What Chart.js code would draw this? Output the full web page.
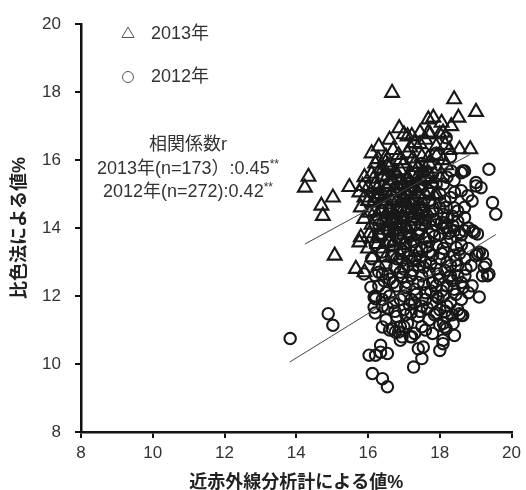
<!DOCTYPE html>
<html><head><meta charset="utf-8">
<script src="https://cdn.jsdelivr.net/npm/chart.js@4.4.1/dist/chart.umd.min.js"></script>
<style>html,body{margin:0;padding:0;background:#fff;}</style>
</head><body>
<canvas id="c" width="526" height="490"></canvas>
<script>
const xTicks = [8, 10, 12, 14, 16, 18, 20];
const yTicks = [8, 10, 12, 14, 16, 18, 20];
const seriesNames = ['2013年', '2012年'];
const xTitle = '近赤外線分析計による値%';
const yTitle = '比色法による値%';
const corrTitle = '相関係数r';
const corrLines = ['2013年(n=173）:0.45', '2012年(n=272):0.42'];
const corrMark = '**';

const tri2013 = [
[16.67,17.98],[18.40,17.79],[19.01,17.42],[18.52,17.25],[17.68,17.20],[17.82,17.25],[18.05,17.10],[16.87,16.94],
[17.22,16.71],[17.45,16.81],[17.68,16.81],[18.32,17.00],[18.09,16.81],[18.27,16.30],[18.55,16.32],[18.85,16.32],
[18.18,15.85],[16.28,16.03],[16.49,15.93],[14.34,15.51],[14.24,15.19],[15.02,14.90],[14.70,14.66],[14.74,14.36],
[15.48,15.21],[15.85,15.24],[15.76,15.05],[15.80,14.61],[15.80,13.73],[15.76,13.58],[15.07,13.19],[15.66,12.80],
[16.12,13.14],[15.89,14.27],[17.18,16.37],[17.45,16.47],[17.91,16.12],[17.68,16.07],[17.00,16.76],[18.00,16.76],
[17.73,16.76],[16.26,13.53],[16.35,13.78],[16.58,13.58],[16.76,13.63],[16.49,13.14],
[16.1,15.6],[16.2,15.3],[16.3,15.0],[16.4,15.5],[16.5,15.2],[16.6,14.9],[16.7,15.4],[16.8,15.1],[16.9,15.7],
[17.0,15.3],[17.1,15.0],[17.2,15.6],[17.3,15.2],[17.4,15.8],[17.5,15.4],[17.6,15.0],[17.7,15.6],[17.8,15.3],
[16.0,14.8],[16.2,14.5],[16.4,14.2],[16.5,14.7],[16.7,14.4],[16.8,14.8],[16.9,14.1],[17.0,14.6],[17.2,14.3],
[17.3,14.8],[17.5,14.5],[17.6,14.1],[17.8,14.7],[16.1,14.1],[16.3,13.8],[16.6,13.6],[16.8,13.9],[17.0,13.5],
[17.2,13.8],[17.4,13.3],[17.6,13.7],[16.5,16.1],[16.7,16.3],[16.9,16.0],[17.1,16.2],[17.3,16.5],[17.5,16.1],
[17.7,15.9],[16.6,15.8],[16.8,15.6],[17.0,15.9],[16.2,15.9],[15.9,15.5],[15.9,14.9],[16.0,15.2],[16.3,14.9],
[16.5,14.4],[16.7,13.9],[17.1,14.0],[17.4,14.4],[17.7,14.2],[17.9,15.0],[18.0,15.5],[17.9,16.4],[18.1,16.0],
[16.4,15.7],[16.6,15.3],[16.9,15.4],[17.1,15.5],[17.3,15.9],[17.6,15.5],[16.2,14.9],[16.4,14.8],[16.6,14.5],
[16.8,14.3],[17.0,14.9],[17.2,15.1],[17.4,15.0],[17.5,14.8],[16.1,13.7],[16.4,13.4],[16.9,13.2],[17.3,13.0],
[16.3,12.9],[15.9,12.7],[16.0,13.4],[17.1,16.7],[16.6,16.6],[17.6,16.6],[16.3,16.4],[16.1,16.2],
[16.15,15.45],[16.25,15.15],[16.35,15.75],[16.45,14.95],[16.55,15.55],[16.65,15.05],[16.75,15.65],[16.85,14.55],
[16.95,15.25],[17.05,14.75],[17.15,15.35],[17.25,14.85],[17.35,15.45],[17.45,14.65],[17.55,15.65],[16.25,14.25],
[16.45,13.95],[16.55,14.05],[16.75,14.15],[16.95,14.35],[17.05,14.05],[17.35,14.55],[17.65,14.45],[17.85,14.95],
[16.05,14.45],[16.15,14.75],[16.35,14.55],[16.55,15.85],[16.85,16.15],[17.25,16.05],[17.45,15.25],[17.75,15.45],
[16.95,14.85],[17.15,14.45],[16.65,14.25],[16.05,13.85],[17.95,15.75],[18.15,16.45]
];

const circ2012 = [
[13.83,10.75],[14.89,11.48],[15.02,11.14],[16.12,9.72],[16.40,9.57],[16.54,9.33],[16.03,10.26],[16.21,10.26],
[16.35,10.35],[16.54,10.31],[16.35,10.55],[16.17,11.97],[17.27,9.91],[17.54,10.50],[17.40,10.45],[17.50,10.16],
[17.18,10.80],[16.90,10.70],[16.76,10.94],[18.41,10.84],[18.09,10.70],[18.00,10.40],[18.09,10.60],[18.00,11.14],
[18.18,11.04],[18.37,11.19],[18.64,11.43],[18.55,11.48],[19.10,11.97],[19.37,15.73],[18.69,15.68],[18.60,15.63],
[19.01,15.34],[19.47,14.75],[19.56,14.41],[19.01,15.24],[19.15,15.19],[18.78,14.95],[18.69,14.61],[18.69,14.31],
[18.41,15.05],[18.14,14.80],[18.18,14.61],[18.05,14.17],[18.18,14.02],[18.41,13.92],[18.69,13.92],[18.96,13.87],
[18.18,16.66],[18.32,15.68],[18.64,15.68],[18.92,13.92],[19.05,13.83],[19.10,13.29],[19.00,13.19],[19.28,12.95],
[19.37,12.65],[19.19,12.60],[18.87,12.90],[18.73,12.80],[18.46,13.43],[18.55,13.87],[18.37,14.07],
[15.89,12.65],[16.08,12.26],[16.21,11.92],[16.17,11.67],[16.40,12.65],[19.33,12.60],[19.24,12.85],[19.05,13.24],
[19.19,13.24],[18.60,11.43],[18.14,11.09],[16.95,10.80],[17.22,10.80],[16.40,11.09],[16.67,11.04],[16.85,10.94],
[17.9,16.2],[18.3,16.1],[17.5,15.9],
[17.6,15.4],[17.9,15.3],[18.2,15.5],[17.3,15.6],
[17.0,15.0],[17.4,14.9],[17.7,15.1],[18.0,15.0],[18.3,14.9],[16.8,15.2],
[16.6,14.6],[16.9,14.5],[17.2,14.7],[17.5,14.6],[17.8,14.5],[18.1,14.4],[18.4,14.6],
[16.5,14.2],[16.8,14.0],[17.0,14.3],[17.3,14.1],[17.6,14.3],[17.9,14.1],[18.2,14.3],[18.5,14.2],
[16.3,13.8],[16.6,13.9],[16.9,13.7],[17.1,13.9],[17.4,13.8],[17.7,13.6],[18.0,13.8],[18.3,13.7],[18.6,13.5],
[16.4,13.3],[16.7,13.5],[17.0,13.3],[17.2,13.5],[17.5,13.4],[17.8,13.2],[18.1,13.4],[18.4,13.2],[18.8,13.4],
[16.5,12.9],[16.8,13.1],[17.1,12.9],[17.3,13.1],[17.6,13.0],[17.9,12.8],[18.2,13.0],[18.5,12.9],[18.7,13.1],
[16.6,12.5],[16.9,12.7],[17.2,12.6],[17.4,12.4],[17.7,12.7],[18.0,12.5],[18.3,12.6],[18.6,12.4],[16.3,12.3],
[16.5,12.1],[16.8,12.3],[17.0,12.0],[17.3,12.2],[17.6,12.1],[17.9,12.3],[18.1,12.0],[18.4,12.2],[18.8,12.1],
[16.4,11.7],[16.7,11.8],[17.0,11.6],[17.2,11.9],[17.5,11.7],[17.8,11.8],[18.0,11.6],[18.3,11.8],[18.6,11.9],
[16.5,11.3],[16.8,11.4],[17.1,11.2],[17.4,11.4],[17.7,11.3],[17.9,11.5],[18.2,11.4],[16.2,11.5],
[16.6,11.0],[17.0,11.1],[17.3,10.9],[17.6,11.0],[17.8,10.9],
[16.7,14.8],[17.1,14.6],[17.4,14.4],[17.7,14.8],[18.0,14.6],[16.8,14.3],[17.2,14.0],[17.5,14.1],[17.8,13.9],[18.1,14.0],
[16.6,13.6],[16.9,13.4],[17.3,13.6],[17.6,13.7],[17.9,13.5],[18.2,13.6],[16.7,13.2],[17.0,12.8],[17.4,12.9],[17.7,13.3],
[18.0,13.1],[18.3,12.9],[16.7,12.4],[17.1,12.4],[17.5,12.6],[17.8,12.4],[18.2,12.3],[18.5,12.6],[16.6,12.0],[16.9,11.9],
[17.3,11.8],[17.6,11.9],[17.9,12.0],[18.2,11.7],[18.5,11.6],[16.9,11.1],[17.2,11.5],[17.5,11.1],[18.1,11.2],[16.3,12.7],
[16.4,11.9],[16.2,12.0],[18.7,12.6],[18.9,12.3],[18.6,13.8],[18.8,14.0],[18.5,14.5],[18.9,14.8],[16.8,15.5],[17.1,15.3],
[17.5,15.2],[17.8,15.6],[18.1,15.3],[18.4,15.4],[18.6,15.1],[16.4,14.5],[16.3,14.1],[16.2,13.5],[16.1,13.1],[16.2,12.6],
[16.85,13.85],[17.05,13.55],[17.15,13.15],[17.25,12.75],[17.35,13.35],[17.45,13.95],[17.55,12.85],[17.65,13.45],
[17.75,12.95],[17.85,13.75],[17.95,12.65],[18.05,13.25],[18.15,12.75],[18.25,13.85],[18.35,12.45],[17.05,12.25],
[17.15,11.75],[17.35,12.05],[17.45,11.55],[17.55,12.35],[17.65,11.65],[17.75,12.15],[17.85,11.45],[17.95,11.95],
[18.05,12.15],[18.15,11.55],[18.25,12.55],[18.45,12.05],[18.45,13.05],[18.55,13.25],[16.95,12.55],[16.75,12.85],
[16.65,13.15],[16.55,12.65],[16.45,12.45],[16.95,13.05],[17.25,14.25],[17.55,14.45],[17.85,14.25],[18.15,14.15],
[18.35,14.35],[17.45,13.15],[17.15,13.75],[16.75,11.55],[16.55,11.65],[17.05,11.45],[18.35,11.45],[18.65,12.25]
];

const fit2013 = [[14.24, 13.53], [18.85, 16.17]];
const fit2012 = [[13.82, 10.06], [19.56, 13.81]];

const FONT = "'Liberation Sans', Arial, 'Noto Sans CJK JP', sans-serif";
const toXY = arr => arr.map(([x, y]) => ({x, y}));

const overlay = {
  id: 'overlay',
  afterDraw(chart) {
    const ctx = chart.ctx;
    ctx.save();
    ctx.strokeStyle = '#555';
    ctx.lineWidth = 1;
    const tx = 128, ty = 34, r = 7;
    ctx.beginPath();
    ctx.moveTo(tx, ty - r);
    ctx.lineTo(tx + r * 0.866, ty + r * 0.5);
    ctx.lineTo(tx - r * 0.866, ty + r * 0.5);
    ctx.closePath();
    ctx.stroke();
    ctx.beginPath();
    ctx.arc(128, 77, 5.5, 0, Math.PI * 2);
    ctx.stroke();
    ctx.fillStyle = '#333';
    ctx.font = '18px ' + FONT;
    ctx.textBaseline = 'middle';
    ctx.textAlign = 'left';
    ctx.fillText(seriesNames[0], 151, 34);
    ctx.fillText(seriesNames[1], 151, 77);
    const cx = 188;
    ctx.textAlign = 'center';
    ctx.fillText(corrTitle, cx, 145);
    const ys = [169, 192];
    corrLines.forEach((s, i) => {
      ctx.font = '18px ' + FONT;
      const w1 = ctx.measureText(s).width;
      ctx.font = '12px ' + FONT;
      const w2 = ctx.measureText(corrMark).width;
      const x0 = cx - (w1 + w2) / 2;
      ctx.textAlign = 'left';
      ctx.font = '18px ' + FONT;
      ctx.fillText(s, x0, ys[i]);
      ctx.font = '12px ' + FONT;
      ctx.fillText(corrMark, x0 + w1, ys[i] - 4);
    });
    ctx.restore();
  }
};

new Chart(document.getElementById('c'), {
  type: 'scatter',
  data: {
    datasets: [
      { type: 'line', label: 'fit2013', data: toXY(fit2013), borderColor: '#444', borderWidth: 1, pointRadius: 0, fill: false },
      { type: 'line', label: 'fit2012', data: toXY(fit2012), borderColor: '#444', borderWidth: 1, pointRadius: 0, fill: false },
      { label: seriesNames[0], data: toXY(tri2013), pointStyle: 'triangle', pointRadius: 8, borderColor: '#181818', borderWidth: 2.1, backgroundColor: 'rgba(0,0,0,0)' },
      { label: seriesNames[1], data: toXY(circ2012), pointStyle: 'circle', pointRadius: 5.7, borderColor: '#181818', borderWidth: 2.1, backgroundColor: 'rgba(0,0,0,0)' }
    ]
  },
  options: {
    responsive: false,
    animation: false,
    devicePixelRatio: 1,
    layout: { padding: { top: 23, right: 0, bottom: 0, left: 0 } },
    plugins: { legend: { display: false }, tooltip: { enabled: false } },
    scales: {
      x: {
        type: 'linear', min: 8, max: 20,
        afterBuildTicks: s => { s.ticks = xTicks.map(v => ({ value: v })); },
        afterFit: s => { s.height = 58; },
        ticks: { color: '#333', font: { size: 17, family: FONT }, padding: 5, autoSkip: false },
        grid: { drawOnChartArea: false, drawTicks: true, tickLength: 6, color: '#111', lineWidth: 2 },
        border: { display: true, color: '#111', width: 2.5 },
        title: { display: true, text: xTitle, color: '#222', font: { size: 18, weight: 'bold', family: FONT, lineHeight: 0.8 }, padding: { top: 0, bottom: 0 } }
      },
      y: {
        type: 'linear', min: 8, max: 20,
        afterBuildTicks: s => { s.ticks = yTicks.map(v => ({ value: v })); },
        afterFit: s => { s.width = 81; },
        ticks: { color: '#333', font: { size: 17, family: FONT }, padding: 14, autoSkip: false },
        grid: { drawOnChartArea: false, drawTicks: true, tickLength: 6, color: '#111', lineWidth: 2 },
        border: { display: true, color: '#111', width: 2.5 },
        title: { display: true, text: yTitle, color: '#222', font: { size: 18, weight: 'bold', family: FONT }, padding: { top: 9, bottom: 0 } }
      }
    }
  },
  plugins: [overlay]
});
</script>
</body></html>
